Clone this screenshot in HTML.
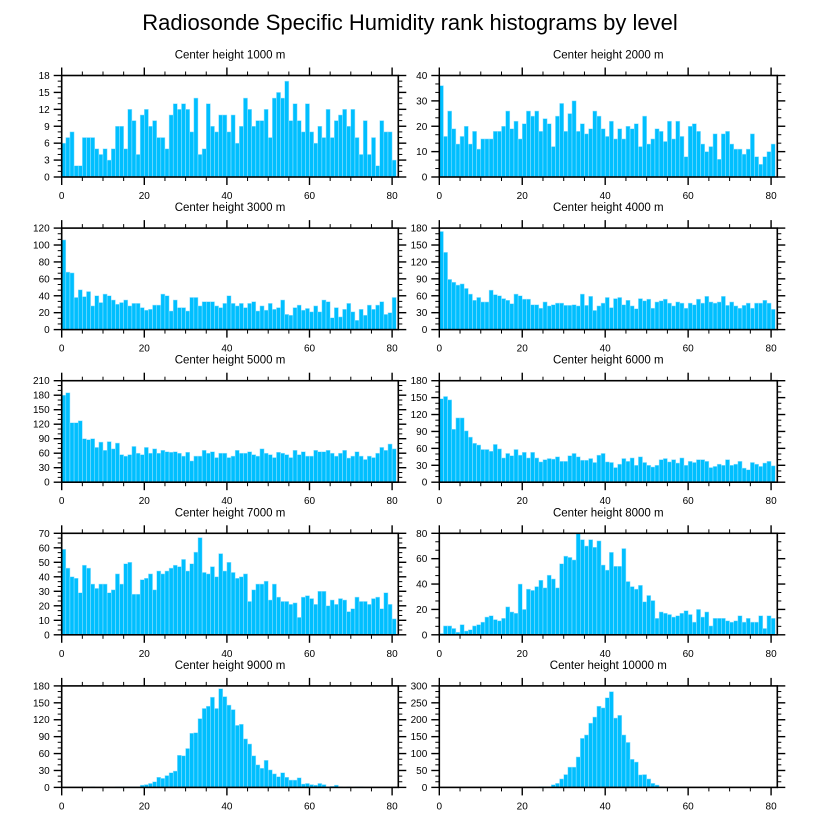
<!DOCTYPE html>
<html><head><meta charset="utf-8">
<style>
html,body{margin:0;padding:0;background:#fff;}
svg{display:block;font-family:"Liberation Sans",Arial,sans-serif;}
</style></head>
<body>
<svg id="chart" width="816" height="824" viewBox="0 0 816 824" xmlns="http://www.w3.org/2000/svg">
<text x="410" y="30" text-anchor="middle" font-size="22">Radiosonde Specific Humidity rank histograms by level</text>
</svg>
<script>
const panelTitles = ["Center height 1000 m","Center height 2000 m","Center height 3000 m","Center height 4000 m","Center height 5000 m","Center height 6000 m","Center height 7000 m","Center height 8000 m","Center height 9000 m","Center height 10000 m"];
const yMaxes = [18,40,120,180,210,180,70,80,180,300];
const yStepMajor = [3,10,20,30,30,30,10,20,30,50];
const xTickLabels = [0,20,40,60,80];
const h1000 = [6,7,8,2,2,7,7,7,5,4,5,3,5,9,9,5,12,10,4,11,12,9,10,7,7,5,11,13,12,13,12,8,14,4,5,13,9,8,11,11,8,11,6,9,14,12,9,10,10,12,7,14,15,14,17,10,13,10,8,13,8,6,9,7,12,7,10,11,12,9,12,7,4,10,4,7,2,10,8,8,3];
const h2000 = [36,16,26,19,13,16,20,13,18,11,15,15,15,18,18,20,26,19,22,15,21,26,24,26,18,23,21,12,24,29,18,25,30,18,21,17,19,26,24,19,16,22,15,19,15,20,19,21,12,24,13,15,19,18,14,22,15,22,16,8,20,21,18,13,10,12,17,7,17,18,13,11,11,9,11,17,8,5,8,10,13];
const h3000 = [106,68,67,38,47,39,45,28,40,32,42,40,35,30,32,35,28,31,31,26,23,24,29,29,42,40,22,35,26,26,22,38,38,28,33,33,33,28,26,31,40,31,28,31,26,31,33,22,28,23,31,24,26,35,18,17,26,29,23,25,21,28,21,35,33,14,26,15,24,31,21,11,24,17,29,24,29,33,18,20,38];
const h4000 = [174,137,89,84,79,81,73,63,52,57,49,49,70,62,60,55,52,46,63,60,54,54,44,44,38,49,42,44,47,47,43,43,44,42,63,43,59,34,42,47,57,39,55,57,44,52,42,37,55,51,54,38,49,51,54,47,42,49,47,38,47,44,54,47,59,49,47,49,59,43,49,42,38,43,47,38,47,47,52,47,36];
const h5000 = [180,185,123,123,127,90,88,90,72,83,66,84,69,81,57,54,57,74,60,57,72,60,69,60,66,63,62,63,60,54,62,44,54,54,66,60,63,51,60,60,51,54,66,60,60,63,57,54,69,60,57,51,62,60,57,51,66,57,63,54,54,66,63,63,66,60,54,60,66,50,54,63,54,47,54,51,60,72,66,79,69];
const h6000 = [148,152,146,94,114,114,91,80,69,66,58,58,55,67,59,43,51,47,58,48,53,43,53,43,36,40,42,41,45,37,37,47,51,45,39,39,42,35,48,51,36,35,26,32,42,37,43,30,45,35,30,27,30,40,42,36,40,34,43,30,37,35,40,40,37,26,28,32,30,40,30,32,37,25,22,35,32,28,34,37,29];
const h7000 = [59,46,40,39,29,48,46,35,32,35,35,29,31,42,35,49,50,28,28,38,39,42,31,44,42,44,46,48,47,52,44,49,57,67,43,42,47,40,56,44,50,43,39,40,42,23,31,35,35,37,24,35,26,23,23,21,22,12,26,27,25,21,30,30,20,24,21,25,24,16,18,26,23,23,21,25,26,18,29,21,11];
const h8000 = [1,7,7,5,2,8,3,4,7,8,10,14,15,12,11,13,22,18,17,40,20,36,35,38,43,37,47,44,37,56,62,61,59,80,75,70,75,69,74,55,51,65,54,54,68,42,38,36,39,26,31,27,13,18,17,16,14,15,17,19,16,10,20,14,18,7,13,13,13,11,10,11,15,10,13,10,10,15,5,15,13];
const h9000 = [0,0,0,0,0,0,0,1,0,0,0,0,0,1,1,1,1,1,1,4,5,7,10,18,16,21,26,29,57,56,69,96,97,122,140,144,160,140,175,161,146,138,110,112,86,77,56,40,34,48,31,24,19,26,18,13,13,17,6,7,5,4,7,5,1,2,4,1,0,1,0,1,1,0,0,0,0,0,0,0,0];
const h10000 = [0,0,0,0,0,0,0,0,0,0,0,0,0,0,0,0,0,0,0,0,0,0,0,0,2,2,2,8,12,25,38,60,60,90,145,155,190,208,240,235,265,283,205,213,155,133,83,75,37,38,25,12,7,2,1,1,1,1,1,1,0,0,0,0,0,0,0,0,0,0,0,0,0,0,0,0,0,0,0,0,0];
const series = [h1000,h2000,h3000,h4000,h5000,h6000,h7000,h8000,h9000,h10000];

const NS = "http://www.w3.org/2000/svg";
const svg = document.getElementById('chart');
const XMAX = 81.5;
function mk(tag, attrs, parent){
  const e = document.createElementNS(NS, tag);
  for (const k in attrs) e.setAttribute(k, attrs[k]);
  parent.appendChild(e);
  return e;
}
for (let p = 0; p < 10; p++) {
  const col = p % 2, row = Math.floor(p / 2);
  const left = col ? 439.3 : 61.7;
  const right = col ? 777.3 : 398.3;
  const top = 75.5 + row * 152.6;
  const bottom = top + 101.5;
  const ymax = yMaxes[p];
  const xs = v => left + (v / XMAX) * (right - left);
  const ys = v => bottom - (v / ymax) * (bottom - top);
  const g = mk('g', {}, svg);
  
  
  const t = mk('text', {x: (left + right) / 2, y: top - 17, 'text-anchor': 'middle', 'font-size': 11.5}, g);
  
  
  t.textContent = panelTitles[p];
  const data = series[p];
  for (let i = 0; i < data.length; i++) {
    if (data[i] <= 0) continue;
    const r = mk('rect', {x: xs(i), y: ys(data[i]), width: xs(i + 1) - xs(i), height: bottom - ys(data[i]), fill: '#00bfff', stroke: '#9fe3ff', 'stroke-width': 0.5}, g);
    
    
  }
  const fr = mk('rect', {x: left, y: top, width: right - left, height: bottom - top, fill: 'none', stroke: '#000', 'stroke-width': 1.6}, g);
  
  
  for (let v = 0; v <= 80; v += 5) {
    const major = v % 20 === 0;
    const L = major ? 8 : 4;
    const X = xs(v);
    mk('line', {x1: X, x2: X, y1: top, y2: top - L, stroke: '#000', 'stroke-width': major ? 1.4 : 1}, g);
    mk('line', {x1: X, x2: X, y1: bottom, y2: bottom + L, stroke: '#000', 'stroke-width': major ? 1.4 : 1}, g);
  }
  for (const v of xTickLabels) {
    const tl = mk('text', {x: xs(v), y: bottom + 22, 'text-anchor': 'middle', 'font-size': 10}, g);
    
    
    tl.textContent = v;
  }
  const step = yStepMajor[p];
  const minor = step / 3;
  for (let k = 0; k * minor <= ymax + 1e-6; k++) {
    const v = k * minor;
    const major = k % 3 === 0;
    const L = major ? 8 : 4;
    const Y = ys(v);
    mk('line', {x1: left, x2: left - L, y1: Y, y2: Y, stroke: '#000', 'stroke-width': major ? 1.4 : 1}, g);
    mk('line', {x1: right, x2: right + L, y1: Y, y2: Y, stroke: '#000', 'stroke-width': major ? 1.4 : 1}, g);
    if (major) {
      const yl = mk('text', {x: left - 12, y: Y + 3.5, 'text-anchor': 'end', 'font-size': 10}, g);
      
      
      yl.textContent = Math.round(v);
    }
  }
}
</script>
</body></html>
